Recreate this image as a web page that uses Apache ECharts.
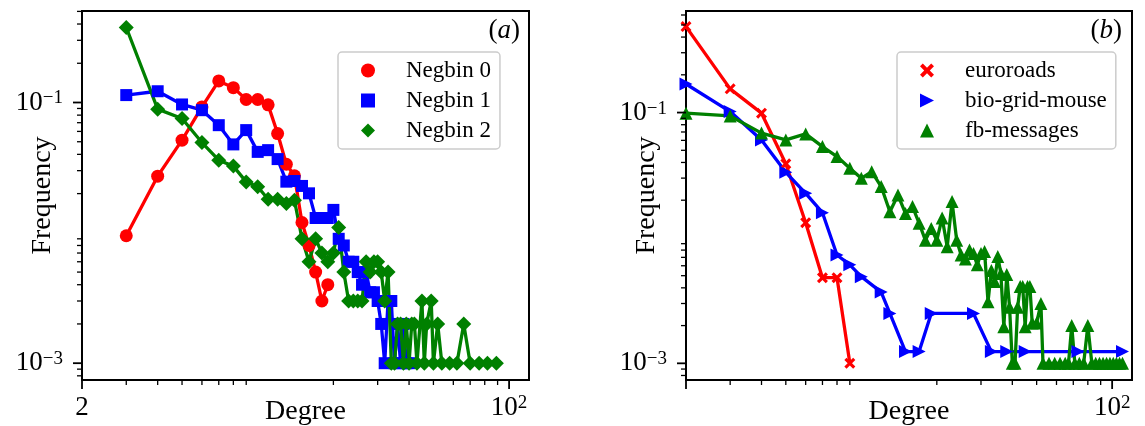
<!DOCTYPE html>
<html>
<head>
<meta charset="utf-8">
<script src="https://cdn.jsdelivr.net/npm/echarts@6/dist/echarts.min.js"></script>
<style>
  html, body { margin: 0; padding: 0; background: #fff; }
  #chart { width: 1145px; height: 426px; }
</style>
</head>
<body>
<div id="chart"></div>
<script>
// ---- Panel (a): degree distributions of the three negative-binomial models ----
const degA = [3,4,5,6,7,8,9,10,11,12,13,14,15,16,17,18,19];
const negbin0 = [0.0095,0.0272,0.0514,0.0925,0.1465,0.130,0.1054,0.1054,0.0959,0.0578,0.0336,0.0274,0.012,0.008,0.005,0.003,0.004];

const degB = [3,4,5,6,7,8,9,10,11,12,13,14,15,16,17,18,19,20,21,22,23,24,25,26,27,28,29,30,31,32,33,34,35,36,37,38,39,40];
const negbin1 = [0.114,0.122,0.0966,0.0873,0.067,0.0477,0.0614,0.0418,0.0431,0.0368,0.0247,0.025,0.0229,0.0201,0.013,0.013,0.013,0.015,0.009,0.008,0.006,0.006,0.005,0.004,0.005,0.0035,0.0035,0.003,0.002,0.001,0.003,0.003,0.001,0.002,0.001,0.002,0.001,0.001];

const degC = [3,4,5,6,7,8,9,10,11,12,13,14,15,16,17,18,19,20,21,22,23,24,25,26,27,28,29,30,31,32,33,34,35,36,37,38,39,40,41,42,43,45,46,47,49,50,52,54,58,62,66,70,76,82,89];
const negbin2 = [0.376,0.0889,0.0753,0.0493,0.0361,0.0325,0.0246,0.0226,0.0181,0.0181,0.0168,0.0178,0.009,0.006,0.009,0.007,0.006,0.007,0.011,0.005,0.003,0.003,0.003,0.003,0.006,0.005,0.006,0.006,0.005,0.003,0.005,0.001,0.001,0.002,0.002,0.001,0.002,0.001,0.002,0.002,0.001,0.003,0.001,0.002,0.003,0.001,0.002,0.001,0.001,0.001,0.002,0.001,0.001,0.001,0.001];

// ---- Panel (b): empirical networks ----
const degE = [2,3,4,5,6,7,8,9];
const euroroads = [0.485,0.1545,0.0989,0.039,0.01324,0.00482,0.00482,0.001];

const degM = [2,3,4,5,6,7,8,9,10,12,13,15,17,19,28,33,38,45,73,110];
const bioGridMouse = [0.169,0.1018,0.0605,0.0334,0.0227,0.0159,0.00731,0.0061,0.00491,0.0037,0.0025,0.00124,0.00124,0.0025,0.0025,0.00124,0.00124,0.00124,0.00124,0.00124];

const degF = [2,3,4,5,6,7,8,9,10,11,12,13,14,15,16,17,18,19,20,21,22,23,24,25,26,27,28,29,30,31,32,33,34,35,36,37,38,39,40,41,42,43,44,45,46,47,48,50,52,53,56,59,62,65,67,69,71,74,77,80,83,86,89,92,95,98,101,104,107,110];
const fbMessages = [0.0989,0.094,0.0686,0.0605,0.0676,0.0535,0.0446,0.036,0.0299,0.0338,0.0257,0.0162,0.022,0.0157,0.0178,0.0131,0.0096,0.0119,0.0096,0.0144,0.0085,0.0195,0.0096,0.0073,0.0068,0.0080,0.0075,0.0061,0.0075,0.0078,0.0031,0.0055,0.0045,0.0071,0.0052,0.00196,0.0051,0.0028,0.001,0.001,0.0028,0.0041,0.0041,0.00196,0.0041,0.0041,0.0021,0.0021,0.0030,0.001,0.001,0.001,0.001,0.001,0.001,0.002,0.001,0.001,0.001,0.002,0.001,0.001,0.001,0.001,0.001,0.001,0.001,0.001,0.001,0.001];

// axis ranges (log scale)
const xRange = [2, 120];
const yRangeA = [Math.pow(10, -3.129), Math.pow(10, -0.298)];
const yRangeB = [Math.pow(10, -3.133), Math.pow(10, -0.19)];

// tick values
const minorX = [3,4,5,6,7,8,9,20,30,40,50,60,70,80,90];
const minorY = [0.0008,0.0009,0.002,0.003,0.004,0.005,0.006,0.007,0.008,0.009,
                0.02,0.03,0.04,0.05,0.06,0.07,0.08,0.09,0.2,0.3,0.4,0.5,0.6];
const majorX = [2, 100];
const labelXA = [2, 100];
const labelXB = [100];
const majorY = [0.001, 0.1];

const FONT = '"Liberation Serif", "DejaVu Serif", serif';
const RED = '#ff0000', BLUE = '#0000ff', GREEN = '#008000';
const X_PATH = 'path://M2,0 L5,3 L8,0 L10,2 L7,5 L10,8 L8,10 L5,7 L2,10 L0,8 L3,5 L0,2 Z';
const TRI_RIGHT = 'path://M0,0 L10,5 L0,10 Z';

function pow10Label(v) {
  const e = Math.round(Math.log10(v));
  if (Math.abs(Math.pow(10, e) - v) > 1e-9 * Math.abs(v)) return '{b|' + v + '}';
  const s = e < 0 ? '\u2212' + (-e) : String(e);
  return '{b|10}{s|' + s + '}';
}
const richLabel = {
  b: { fontFamily: FONT, fontSize: 27, lineHeight: 27, color: '#000' },
  s: { fontFamily: FONT, fontSize: 19, lineHeight: 15, verticalAlign: 'top', color: '#000' }
};

const grids = [
  { left: 82, right: 616, top: 11, bottom: 46 },
  { left: 686, right: 13, top: 11, bottom: 46 }
];

function xAxis(gi, labels) {
  return {
    type: 'log', gridIndex: gi, min: xRange[0], max: xRange[1], position: 'bottom',
    name: 'Degree', nameLocation: 'middle', nameGap: 18, nameMoveOverlap: false,
    nameTextStyle: { fontFamily: FONT, fontSize: 28, color: '#000' },
    axisLine: { show: false }, splitLine: { show: false }, axisTick: { show: false },
    axisLabel: { show: true, margin: 14, customValues: labels, formatter: pow10Label, rich: richLabel, hideOverlap: false }
  };
}
function yAxis(gi, range) {
  return {
    type: 'log', gridIndex: gi, min: range[0], max: range[1], position: 'left',
    name: 'Frequency', nameLocation: 'middle', nameGap: 25, nameMoveOverlap: false,
    nameTextStyle: { fontFamily: FONT, fontSize: 28, color: '#000' },
    axisLine: { show: false }, splitLine: { show: false }, axisTick: { show: false },
    axisLabel: { show: true, margin: 19, customValues: majorY, formatter: pow10Label, rich: richLabel, hideOverlap: false }
  };
}

function pairs(xs, ys) { return xs.map((x, i) => [x, ys[i]]); }
function lineSeries(name, gi, xs, ys, color, symbol, size) {
  return {
    name, type: 'line', xAxisIndex: gi, yAxisIndex: gi,
    data: pairs(xs, ys),
    symbol, symbolSize: size, showAllSymbol: true,
    lineStyle: { color, width: 3.3 },
    itemStyle: { color },
    emphasis: { disabled: true },
    clip: true, z: 2
  };
}

const legendCommon = {
  orient: 'vertical', itemWidth: 14, itemHeight: 14, itemGap: 7,
  padding: [7, 9, 7, 23],
  backgroundColor: 'rgba(255,255,255,0.8)', borderColor: '#cccccc', borderWidth: 1.5, borderRadius: 4,
  textStyle: { fontFamily: FONT, fontSize: 23, lineHeight: 22, color: '#000', padding: [0, 0, 0, 26] },
  selectedMode: false
};

function italicTag(letter, right) {
  return {
    type: 'text', right: right, top: 17, z: 10,
    style: { text: '({i|' + letter + '})', fontFamily: FONT, fontSize: 27, fill: '#000',
             rich: { i: { fontFamily: FONT, fontStyle: 'italic', fontSize: 27 } } }
  };
}

const option = {
  animation: false,
  backgroundColor: '#fff',
  grid: grids.map(g => Object.assign({ show: true, borderColor: '#000', borderWidth: 2, backgroundColor: 'transparent', outerBoundsMode: 'none', containLabel: false }, g)),
  xAxis: [xAxis(0, labelXA), xAxis(1, labelXB)],
  yAxis: [yAxis(0, yRangeA), yAxis(1, yRangeB)],
  legend: [
    Object.assign({}, legendCommon, {
      left: 338, top: 52,
      data: [
        { name: 'Negbin 0', icon: 'circle' },
        { name: 'Negbin 1', icon: 'rect' },
        { name: 'Negbin 2', icon: 'diamond' }
      ]
    }),
    Object.assign({}, legendCommon, {
      left: 897, top: 52,
      data: [
        { name: 'euroroads', icon: X_PATH },
        { name: 'bio-grid-mouse', icon: TRI_RIGHT },
        { name: 'fb-messages', icon: 'triangle' }
      ]
    })
  ],
  series: [
    lineSeries('Negbin 0', 0, degA, negbin0, RED, 'circle', 13),
    lineSeries('Negbin 1', 0, degB, negbin1, BLUE, 'rect', 12),
    lineSeries('Negbin 2', 0, degC, negbin2, GREEN, 'diamond', 15),
    lineSeries('euroroads', 1, degE, euroroads, RED, X_PATH, 11),
    lineSeries('bio-grid-mouse', 1, degM, bioGridMouse, BLUE, TRI_RIGHT, 13),
    lineSeries('fb-messages', 1, degF, fbMessages, GREEN, 'triangle', 13)
  ]
};

const chart = echarts.init(document.getElementById('chart'), null, { renderer: 'canvas' });
chart.setOption(option);

// Outward ticks (major and minor) placed through each axis scale.
function tickMarks(gi, yRange, majorXs) {
  const out = [];
  const bottom = chart.convertToPixel({ yAxisIndex: gi }, yRange[0]);
  const left = chart.convertToPixel({ xAxisIndex: gi }, xRange[0]);
  const add = (x1, y1, x2, y2, w) => out.push({
    type: 'line', silent: true, z: 5,
    shape: { x1, y1, x2, y2 }, style: { stroke: '#000', lineWidth: w }
  });
  majorXs.forEach(v => { const p = chart.convertToPixel({ xAxisIndex: gi }, v); add(p, bottom, p, bottom + 9, 1.8); });
  minorX.forEach(v => { const p = chart.convertToPixel({ xAxisIndex: gi }, v); add(p, bottom, p, bottom + 5, 1.3); });
  majorY.forEach(v => { const p = chart.convertToPixel({ yAxisIndex: gi }, v); add(left, p, left - 9, p, 1.8); });
  minorY.filter(v => v > yRange[0] && v < yRange[1]).forEach(v => {
    const p = chart.convertToPixel({ yAxisIndex: gi }, v); add(left, p, left - 5, p, 1.3);
  });
  return out;
}

chart.setOption({
  graphic: [
    ...tickMarks(0, yRangeA, majorX),
    ...tickMarks(1, yRangeB, majorX),
    italicTag('a', 1145 - 520),
    italicTag('b', 1145 - 1122)
  ]
});
</script>
</body>
</html>
